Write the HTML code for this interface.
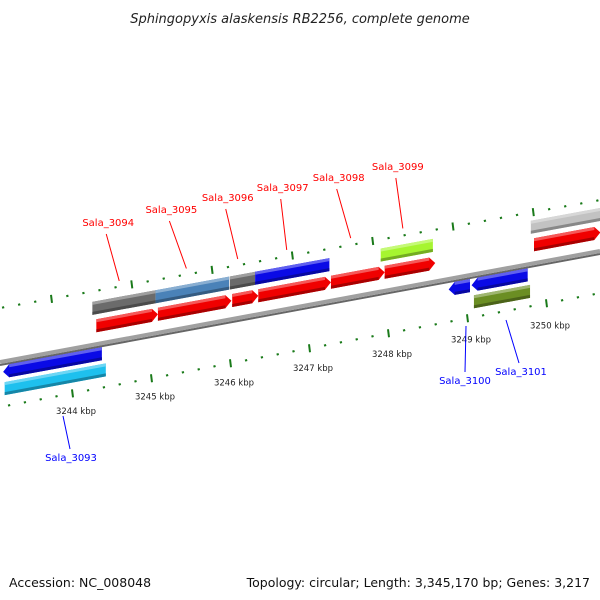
<!DOCTYPE html>
<html><head><meta charset="utf-8"><style>
html,body{margin:0;padding:0;background:#fff;}
svg{display:block;font-family:"DejaVu Sans","Liberation Sans",sans-serif;}
</style></head><body>
<svg id="chart" width="600" height="600" viewBox="0 0 600 600" xmlns="http://www.w3.org/2000/svg">
<rect width="600" height="600" fill="#fff"/>
<text x="300" y="23" text-anchor="middle" font-size="13" font-style="italic" fill="#222">Sphingopyxis alaskensis RB2256, complete genome</text>
<g id="ticks"></g>
<line x1="0" y1="365" x2="600" y2="254" stroke="#666" stroke-width="2"/>
<line x1="0" y1="362" x2="600" y2="251" stroke="#a0a0a0" stroke-width="4"/>
<g id="genes"></g>
<g id="labels"></g>
<text x="9" y="587" font-size="12.5" fill="#111">Accession: NC_008048</text>
<text x="590" y="587" text-anchor="end" font-size="12.5" fill="#111">Topology: circular; Length: 3,345,170 bp; Genes: 3,217</text>
</svg>
<script>
// data
const tickKbp = [3244, 3245, 3246, 3247, 3248, 3249, 3250];
const tickLabels = ["3244 kbp","3245 kbp","3246 kbp","3247 kbp","3248 kbp","3249 kbp","3250 kbp"];
const geneNames = ["g_a","g_b","g_c","g_d","g_e","g_f","g_r1","g_r2","g_r3","g_r4","g_r5","g_r6","g_r7","g_b1","g_b2","g_b3","g_c1","g_c2"];
const geneStart = [3244.22,3245.02,3245.96,3246.28,3247.87,3249.77, 3244.27,3245.05,3245.99,3246.32,3247.24,3247.92,3249.81, 3243.09,3248.73,3249.02, 3243.11,3249.05];
const geneEnd   = [3245.02,3245.95,3246.28,3247.22,3248.53,3250.65, 3245.05,3245.98,3246.32,3247.24,3247.92,3248.56,3250.65, 3244.34,3249.00,3249.73, 3244.39,3249.76];
const geneLane  = [2,2,2,2,2,2, 1,1,1,1,1,1,1, -1,-1,-1, -2,-2];
const geneStrand= [0,0,0,0,0,0, 1,1,1,1,1,1,1, -1,-1,-1, 0,0];
const geneColor = ["#6b6b6b","#4a82b8","#6b6b6b","#0a0ae6","#a6f530","#c2c2c2","#f00000","#f00000","#f00000","#f00000","#f00000","#f00000","#f00000","#0a0ae6","#0a0ae6","#0a0ae6","#1ec0ee","#6b8e23"];
const labelNames = ["Sala_3094","Sala_3095","Sala_3096","Sala_3097","Sala_3098","Sala_3099","Sala_3093","Sala_3100","Sala_3101"];
const labelKbp   = [3244.56,3245.41,3246.06,3246.68,3247.49,3248.15,3243.90,3249.00,3249.42];
const labelSide  = [1,1,1,1,1,1,-1,-1,-1];
const labelTextY = [226,213,201,191,181,170,0,0,0];
const labelShift = [11,15,10,4,12,5,0,0,0];

const NS="http://www.w3.org/2000/svg";
const S=-0.185;
function xOf(k){return 75+(k-3244)*79;}
function base(x){return 362+S*x;}
function laneOff(l){return {2:[-43,-30],1:[-25,-12],"-1":[4,17],"-2":[21,34]}[l];}
function mk(tag,attrs,parent){const e=document.createElementNS(NS,tag);for(const k in attrs)e.setAttribute(k,attrs[k]);parent.appendChild(e);return e;}
function shade(c,f){const n=parseInt(c.slice(1),16);let r=n>>16,g=(n>>8)&255,b=n&255;
  const m=v=>Math.max(0,Math.min(255,Math.round(f>1?v+(255-v)*(f-1):v*f)));return `rgb(${m(r)},${m(g)},${m(b)})`;}

// ticks
const tg=document.getElementById('ticks');
const kmin=3243.2,kmax=3251;
for(let i=Math.ceil(kmin*5);i<=kmax*5;i++){
  const k=i/5, major=(i%5===0);
  let x=xOf(k)-3, y=407-0.19*x;
  let t=mk('line',{x1:x,y1:y-(major?4:1),x2:x+(major?1:0.6),y2:y+(major?4:1),stroke:'#1a7a1a','stroke-width':major?2:2.2},tg);
  
  
  x=51+(k-3244)*80.3; y=308-0.18*x;
  t=mk('line',{x1:x,y1:y-(major?4:1),x2:x+(major?1:0.6),y2:y+(major?4:1),stroke:'#1a7a1a','stroke-width':major?2:2.2},tg);
  
  
}
tickKbp.forEach((k,i)=>{
  const x=xOf(k)+1, y=414-0.18*(x-75);
  const t=mk('text',{x:x,y:y,'text-anchor':'middle','font-size':'8.5',fill:'#222'},tg);
  t.textContent=tickLabels[i];
  
  
});

// genes
const gg=document.getElementById('genes');
geneStart.forEach((s,i)=>{
  const x1=xOf(s), x2=xOf(geneEnd[i]); const [o1,o2]=laneOff(geneLane[i]);
  const st=geneStrand[i], tip=6, mid=(o1+o2)/2;
  let pts;
  if(st===1) pts=[[x1,o1],[x2-tip,o1],[x2,mid],[x2-tip,o2],[x1,o2]];
  else if(st===-1) pts=[[x1+tip,o1],[x2,o1],[x2,o2],[x1+tip,o2],[x1,mid]];
  else pts=[[x1,o1],[x2,o1],[x2,o2],[x1,o2]];
  const P=pts.map(p=>p[0]+','+(base(p[0])+p[1]).toFixed(1)).join(' ');
  const g=mk('g',{},gg);
  
  
  mk('polygon',{points:P,fill:geneColor[i]},g);
  const a=x1+(st===-1?tip:0), b=x2-(st===1?tip:0);
  const hl=[[a,o1],[b,o1],[b,o1+3],[a,o1+3]];
  mk('polygon',{points:hl.map(p=>p[0]+','+(base(p[0])+p[1]).toFixed(1)).join(' '),fill:shade(geneColor[i],1.35)},g);
  const sh=[[a,o2-3],[b,o2-3],[b,o2],[a,o2]];
  mk('polygon',{points:sh.map(p=>p[0]+','+(base(p[0])+p[1]).toFixed(1)).join(' '),fill:shade(geneColor[i],0.7)},g);
});

// labels
const lg=document.getElementById('labels');
labelNames.forEach((n,i)=>{
  const x=xOf(labelKbp[i]); const up=labelSide[i]===1;
  const c=up?'#f00':'#00f';
  let tx,ty;
  if(up){
    tx=x-labelShift[i]; ty=labelTextY[i];
    mk('line',{x1:tx-2,y1:ty+8,x2:x,y2:base(x)-59,stroke:c,'stroke-width':1},lg);
  }
  else if(n==="Sala_3093"){mk('line',{x1:63,y1:416,x2:70,y2:449,stroke:c},lg); tx=71; ty=461;}
  else if(n==="Sala_3100"){mk('line',{x1:466,y1:326,x2:465,y2:372,stroke:c},lg); tx=465; ty=384;}
  else {mk('line',{x1:506,y1:320,x2:519,y2:363,stroke:c},lg); tx=521; ty=375;}
  const t=mk('text',{x:tx,y:ty,'text-anchor':'middle','font-size':'10',fill:c},lg);
  t.textContent=n;
  
  
});
</script>
</body></html>
